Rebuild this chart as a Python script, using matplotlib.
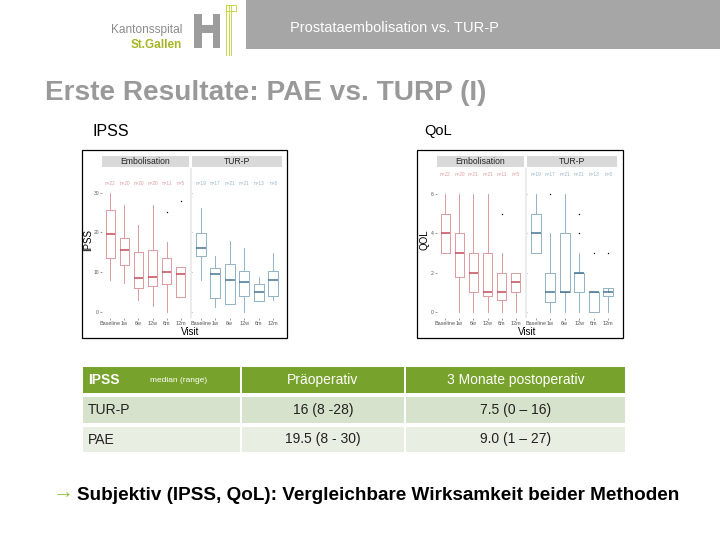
import matplotlib.pyplot as plt
from matplotlib.patches import Rectangle

W, H = 720, 540

# visits on the x axis of both boxplots
visits = ["Baseline", "1w", "6w", "12w", "6m", "12m"]

# IPSS boxplot stats per visit: whisker low, q1, median, q3, whisker high
ipss_emb_lo = [8.0, 7.1, 2.9, 1.3, 0.0, 3.8]
ipss_emb_q1 = [13.4, 11.8, 5.9, 6.5, 6.9, 3.8]
ipss_emb_med = [19.5, 15.5, 8.4, 8.8, 9.9, 9.5]
ipss_emb_q3 = [25.6, 18.5, 15.1, 15.5, 13.4, 11.3]
ipss_emb_hi = [30.0, 26.9, 21.8, 26.9, 17.6, 11.3]
ipss_emb_out = [[], [], [], [], [25.0], [28.0]]
ipss_emb_n = ["n=22", "n=20", "n=20", "n=20", "n=11", "n=5"]

ipss_tur_lo = [8.0, 1.1, 1.9, 0.0, 2.8, 2.9]
ipss_tur_q1 = [14.0, 3.4, 1.9, 3.9, 2.8, 3.9]
ipss_tur_med = [16.0, 9.5, 8.0, 7.4, 4.9, 8.0]
ipss_tur_q3 = [19.9, 10.9, 11.9, 10.3, 7.0, 10.3]
ipss_tur_hi = [26.0, 13.9, 17.9, 16.0, 8.8, 14.7]
ipss_tur_out = [[], [], [], [], [], []]
ipss_tur_n = ["n=19", "n=17", "n=21", "n=21", "n=13", "n=8"]

# QoL boxplot stats
qol_emb_lo = [3.0, 0.0, 0.0, 0.0, 0.0, 0.0]
qol_emb_q1 = [3.0, 1.75, 1.0, 0.8, 0.6, 1.0]
qol_emb_med = [4.0, 3.0, 2.0, 1.0, 1.0, 1.5]
qol_emb_q3 = [5.0, 4.0, 3.0, 3.0, 2.0, 2.0]
qol_emb_hi = [6.0, 6.0, 6.0, 6.0, 3.0, 2.0]
qol_emb_out = [[], [], [], [], [5.0], []]
qol_emb_n = ["n=22", "n=20", "n=21", "n=21", "n=11", "n=5"]

qol_tur_lo = [3.0, 0.0, 0.0, 0.0, 0.0, 0.0]
qol_tur_q1 = [3.0, 0.5, 1.0, 1.0, 0.0, 0.8]
qol_tur_med = [4.0, 1.0, 1.0, 2.0, 1.0, 1.0]
qol_tur_q3 = [5.0, 2.0, 4.0, 2.0, 1.0, 1.2]
qol_tur_hi = [6.0, 4.0, 6.0, 3.0, 1.0, 1.0]
qol_tur_out = [[], [6.0], [], [4.0, 5.0], [3.0], [3.0]]
qol_tur_n = ["n=19", "n=17", "n=21", "n=21", "n=13", "n=8"]

# summary table
table_header = ["Präoperativ", "3 Monate postoperativ"]
table_rows = ["TUR-P", "PAE"]
table_pre = ["16 (8 -28)", "19.5 (8 - 30)"]
table_post = ["7.5 (0 \u2013 16)", "9.0 (1 \u2013 27)"]

RED_LINE = "#dc9a9e"
RED_MED = "#c44a58"
BLUE_LINE = "#93b2c6"
BLUE_MED = "#467594"

plt.rcParams["font.family"] = ["Liberation Sans", "DejaVu Sans"]

fig = plt.figure(figsize=(7.2, 5.4), dpi=100)


def fx(x):
    return x / W


def fy(y):
    return 1 - y / H


def box(x0, y0, x1, y1):
    # pixel box (top-left origin) -> [left, bottom, width, height]
    return [fx(x0), fy(y1), (x1 - x0) / W, (y1 - y0) / H]


def add_rect(x0, y0, x1, y1, zorder=-1, **kw):
    fig.patches.append(Rectangle((fx(x0), fy(y1)), (x1 - x0) / W, (y1 - y0) / H,
                                 transform=fig.transFigure, zorder=zorder, **kw))


def facet(rect, lo, q1, med, q3, hi, out, nlab, line, medc, ylim, yticks, nlab_y, show_y):
    ax = fig.add_axes(rect)
    stats = []
    for i in range(len(visits)):
        stats.append({"whislo": lo[i], "q1": q1[i], "med": med[i], "q3": q3[i],
                      "whishi": hi[i], "fliers": out[i]})
    ax.bxp(stats, positions=range(1, len(visits) + 1), widths=0.7, showcaps=False,
           boxprops={"color": line, "lw": 0.7},
           whiskerprops={"color": line, "lw": 0.7},
           medianprops={"color": medc, "lw": 1.1},
           flierprops={"marker": "o", "markersize": 1.0, "markeredgewidth": 0,
                       "markerfacecolor": "black"})
    for i, t in enumerate(nlab):
        ax.text(i + 1, nlab_y, t, ha="center", va="center", fontsize=3.4, color=line)
    ax.set_xlim(0.4, len(visits) + 0.6)
    ax.set_ylim(*ylim)
    ax.set_xticks(range(1, len(visits) + 1))
    ax.set_xticklabels(visits, fontsize=4, color="#333333")
    ax.set_yticks(yticks)
    if show_y:
        ax.set_yticklabels([str(t) for t in yticks], fontsize=3.6, color="#333333")
    else:
        ax.set_yticklabels([])
        ax.tick_params(axis="y", length=0)
    ax.tick_params(length=1.2, width=0.4, pad=1, colors="#555555")
    for s in ax.spines.values():
        s.set_visible(False)
    return ax


def strip(x0, x1, label):
    add_rect(x0, 156, x1, 167, zorder=2, facecolor="#d9d9d9", edgecolor="none")
    fig.text(fx((x0 + x1) / 2), fy(161.5), label, ha="center", va="center",
             fontsize=6.2, color="#222222", zorder=3)


# header bar and logo
add_rect(246, 0, 720, 49, facecolor="#a6a6a6", edgecolor="none")
fig.text(fx(290), fy(28), "Prostataembolisation vs. TUR-P", ha="left", va="center",
         fontsize=10.5, color="white")
fig.text(fx(182), fy(30), "Kantonsspital", ha="right", va="center", fontsize=8.6,
         color="#8c8c8c")
fig.text(fx(182), fy(45), "St.Gallen", ha="right", va="center", fontsize=8.5,
         fontweight="semibold", color="#a4b526")
add_rect(194, 14, 202, 48, facecolor="#9c9c9c", edgecolor="none")
add_rect(213, 14, 220, 48, facecolor="#9c9c9c", edgecolor="none")
add_rect(194, 25, 220, 33, facecolor="#9c9c9c", edgecolor="none")
for xl in [226, 228.5, 231]:
    fig.lines.append(plt.Line2D([fx(xl), fx(xl)], [fy(5), fy(55)], transform=fig.transFigure,
                                color="#c8d64a", lw=0.7))
add_rect(226, 5, 236, 11, facecolor="none", edgecolor="#c8d64a", lw=0.7)

# title
fig.text(fx(45), fy(93), "Erste Resultate: PAE vs. TURP (I)", ha="left", va="center",
         fontsize=20.2, fontweight="bold", color="#999999")
fig.text(fx(92), fy(131), "IPSS", ha="left", va="center", fontsize=11.5, color="black")
fig.text(fx(424), fy(131), "QoL", ha="left", va="center", fontsize=10.5, color="black")

# IPSS image
add_rect(82, 150, 287, 338, facecolor="white", edgecolor="black", lw=0.9)
ipss_lim = (-1.6, 36.2)
facet(box(102, 168, 189, 318), ipss_emb_lo, ipss_emb_q1, ipss_emb_med, ipss_emb_q3,
      ipss_emb_hi, ipss_emb_out, ipss_emb_n, RED_LINE, RED_MED, ipss_lim,
      [0, 10, 20, 30], 32.4, True)
facet(box(192, 168, 282, 318), ipss_tur_lo, ipss_tur_q1, ipss_tur_med, ipss_tur_q3,
      ipss_tur_hi, ipss_tur_out, ipss_tur_n, BLUE_LINE, BLUE_MED, ipss_lim,
      [0, 10, 20, 30], 32.4, False)
strip(102, 189, "Embolisation")
strip(192, 282, "TUR-P")
add_rect(189.5, 168, 191.5, 318, zorder=2, facecolor="#ebebeb", edgecolor="none")
fig.text(fx(88), fy(240), "IPSS", rotation=90, ha="center", va="center", fontsize=7)
fig.text(fx(190), fy(332), "Visit", ha="center", va="center", fontsize=7)

# QoL image
add_rect(417, 150, 623, 338, facecolor="white", edgecolor="black", lw=0.9)
qol_lim = (-0.32, 7.34)
facet(box(437, 168, 524, 318), qol_emb_lo, qol_emb_q1, qol_emb_med, qol_emb_q3,
      qol_emb_hi, qol_emb_out, qol_emb_n, RED_LINE, RED_MED, qol_lim,
      [0, 2, 4, 6], 7.0, True)
facet(box(527, 168, 617, 318), qol_tur_lo, qol_tur_q1, qol_tur_med, qol_tur_q3,
      qol_tur_hi, qol_tur_out, qol_tur_n, BLUE_LINE, BLUE_MED, qol_lim,
      [0, 2, 4, 6], 7.0, False)
strip(437, 524, "Embolisation")
strip(527, 617, "TUR-P")
add_rect(524.5, 168, 526.5, 318, zorder=2, facecolor="#ebebeb", edgecolor="none")
fig.text(fx(425), fy(240), "QOL", rotation=90, ha="center", va="center", fontsize=7)
fig.text(fx(527), fy(332), "Visit", ha="center", va="center", fontsize=7)

# table
cols = [(83, 240), (242, 404), (406, 625)]
rows_y = [(367, 393), (397, 423), (427, 452)]
row_colors = ["#77a22b", "#d6e2cb", "#e8eee1"]
for (y0, y1), c in zip(rows_y, row_colors):
    for x0, x1 in cols:
        add_rect(x0, y0, x1, y1, facecolor=c, edgecolor="none")

hy = (rows_y[0][0] + rows_y[0][1]) / 2
fig.text(fx(88), fy(hy), "IPSS", ha="left", va="center", fontsize=10, fontweight="bold",
         color="white")
fig.text(fx(150), fy(hy + 1), "median (range)", ha="left", va="center", fontsize=6,
         color="white")
for (x0, x1), t in zip(cols[1:], table_header):
    fig.text(fx((x0 + x1) / 2), fy(hy), t, ha="center", va="center", fontsize=10,
             color="white")
for (y0, y1), name, pre, post in zip(rows_y[1:], table_rows, table_pre, table_post):
    yc = (y0 + y1) / 2
    fig.text(fx(88), fy(yc), name, ha="left", va="center", fontsize=10, color="#222222")
    fig.text(fx((cols[1][0] + cols[1][1]) / 2), fy(yc), pre, ha="center", va="center",
             fontsize=10, color="#222222")
    fig.text(fx((cols[2][0] + cols[2][1]) / 2), fy(yc), post, ha="center", va="center",
             fontsize=10, color="#222222")

# conclusion
fig.text(fx(53), fy(493), "\u2192", ha="left", va="center", fontsize=15, color="#8cc63f")
fig.text(fx(77), fy(495), "Subjektiv (IPSS, QoL): Vergleichbare Wirksamkeit beider Methoden",
         ha="left", va="center", fontsize=13.6, fontweight="bold", color="black")

fig.savefig("out.png", dpi=100)
